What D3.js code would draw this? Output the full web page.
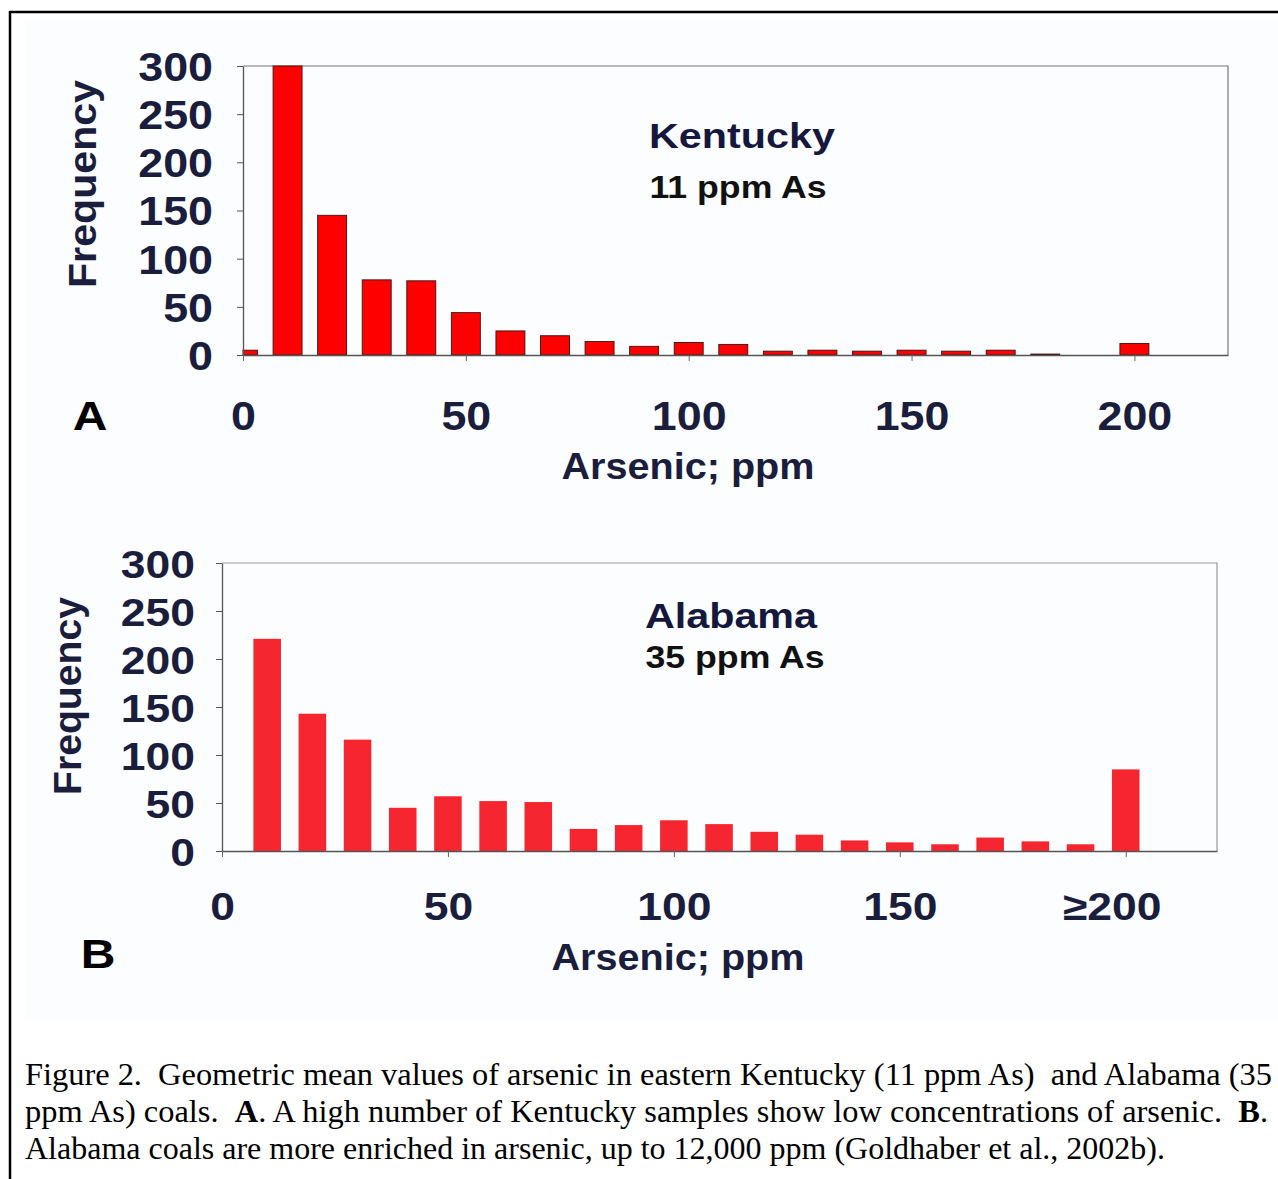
<!DOCTYPE html>
<html>
<head>
<meta charset="utf-8">
<script src="https://cdn.jsdelivr.net/npm/d3@7"></script>
<style>
  body { margin: 0; background: #fff; }
  text { font-family: "Liberation Sans", Arial, sans-serif; }
  .caption { font-family: "Liberation Serif", "Times New Roman", serif; white-space: pre; }
</style>
</head>
<body>
<svg id="fig" width="1278" height="1179"></svg>
<script>
// ---- data ----
var kentuckyBins = [0, 10, 20, 30, 40, 50, 60, 70, 80, 90, 100, 110, 120, 130, 140, 150, 160, 170, 180, 190, 200];
var kentuckyCounts = [5, 300, 145, 78, 77, 44, 25, 20, 14, 9, 13, 11, 4, 5, 4, 5, 4, 5, 1, 0, 12];

var alabamaBins = [10, 20, 30, 40, 50, 60, 70, 80, 90, 100, 110, 120, 130, 140, 150, 160, 170, 180, 190, 200];
var alabamaCounts = [221, 143, 116, 45, 57, 52, 51, 23, 27, 32, 28, 20, 17, 11, 9, 7, 14, 10, 7, 85];

var yTicks = [0, 50, 100, 150, 200, 250, 300];
var xTicks = [0, 50, 100, 150, 200];
var xTickLabelsA = ["0", "50", "100", "150", "200"];
var xTickLabelsB = ["0", "50", "100", "150", "\u2265200"];

var captionLines = [
  [["Figure 2.  Geometric mean values of arsenic in eastern Kentucky (11 ppm As)  and Alabama (35", false]],
  [["ppm As) coals.  ", false], ["A", true], [". A high number of Kentucky samples show low concentrations of arsenic.  ", false], ["B", true], [".", false]],
  [["Alabama coals are more enriched in arsenic, up to 12,000 ppm (Goldhaber et al., 2002b).", false]]
];

var navy = "#1b1d3d";
var svg = d3.select("#fig");

// widen glyphs a little, the scan's lettering is broader than Arial
function stretch(sel, k) {
  sel.each(function() {
    var w = this.getComputedTextLength();
    d3.select(this).attr("textLength", w * k).attr("lengthAdjust", "spacingAndGlyphs");
  });
}

// page frame and faint scan tint
svg.append("rect").attr("x", 25).attr("y", 20).attr("width", 1253).attr("height", 1000).attr("fill", "#fcfdfe");
svg.append("line").attr("x1", 10).attr("y1", 12).attr("x2", 1278).attr("y2", 12).attr("stroke", "#000").attr("stroke-width", 2.5);
svg.append("line").attr("x1", 10).attr("y1", 11).attr("x2", 10).attr("y2", 1179).attr("stroke", "#000").attr("stroke-width", 2.5);

function drawPanel(p, bins, counts, xLabels) {
  var x = d3.scaleLinear().domain([0, p.xMax]).range([p.left, p.right]);
  var y = d3.scaleLinear().domain([0, 300]).range([p.bottom, p.top]);
  var g = svg.append("g");

  // top and right frame
  g.append("path")
    .attr("d", `M${p.left},${p.top}H${p.right}V${p.bottom}`)
    .attr("fill", "none")
    .attr("stroke", p.frameColor)
    .attr("stroke-width", 1.2);

  // bars
  g.selectAll("rect.bar")
    .data(bins.map((b, i) => ({ bin: b, count: counts[i] })))
    .enter()
    .append("rect")
    .attr("class", "bar")
    .attr("x", d => Math.max(x(d.bin - p.barW / 2), x(0)))
    .attr("width", d => x(d.bin + p.barW / 2) - Math.max(x(d.bin - p.barW / 2), x(0)))
    .attr("y", d => y(d.count))
    .attr("height", d => y(0) - y(d.count))
    .attr("fill", p.barColor)
    .attr("stroke", p.barStroke)
    .attr("stroke-width", p.barStroke === "none" ? 0 : 0.9);

  // y axis
  var yAxis = g.append("g")
    .attr("transform", `translate(${p.left},0)`)
    .call(d3.axisLeft(y).tickValues(yTicks).tickSize(6).tickSizeOuter(0).tickPadding(p.yPad));
  yAxis.select(".domain").attr("stroke", "#555").attr("stroke-width", 1.3);
  yAxis.selectAll(".tick line").attr("stroke", "#555");
  yAxis.selectAll("text")
    .attr("fill", navy)
    .attr("font-size", p.tickFont)
    .attr("font-weight", "bold")
    .attr("font-family", "Liberation Sans, Arial, sans-serif")
    .attr("dy", "0.36em")
    .call(stretch, p.tickStretch);

  // x axis
  var xAxis = g.append("g")
    .attr("transform", `translate(0,${p.bottom})`)
    .call(d3.axisBottom(x).tickValues(xTicks).tickSize(6).tickSizeOuter(0).tickPadding(p.xPad)
      .tickFormat((d, i) => xLabels[i]));
  xAxis.select(".domain").attr("stroke", "#555").attr("stroke-width", 1.3);
  xAxis.selectAll(".tick line").attr("stroke", "#666");
  xAxis.selectAll("text")
    .attr("fill", navy)
    .attr("font-size", p.tickFont)
    .attr("font-weight", "bold")
    .attr("font-family", "Liberation Sans, Arial, sans-serif")
    .attr("dx", (d, i) => xLabels[i].length > 3 ? -14 : 0)
    .call(stretch, p.tickStretch);

  // axis titles
  g.append("text")
    .attr("transform", `translate(${p.yTitleX},${p.yTitleY}) rotate(-90)`)
    .attr("text-anchor", "middle")
    .attr("font-size", 38)
    .attr("font-weight", "bold")
    .attr("fill", navy)
    .attr("textLength", p.yTitleLen)
    .attr("lengthAdjust", "spacingAndGlyphs")
    .text("Frequency");

  g.append("text")
    .attr("x", p.xTitleX)
    .attr("y", p.xTitleY)
    .attr("text-anchor", "middle")
    .attr("font-size", 36)
    .attr("font-weight", "bold")
    .attr("fill", navy)
    .text("Arsenic; ppm")
    .call(stretch, 1.1);

  // panel titles
  g.append("text")
    .attr("x", p.titleX)
    .attr("y", p.titleY)
    .attr("text-anchor", "middle")
    .attr("font-size", 35)
    .attr("font-weight", "bold")
    .attr("fill", "#15173d")
    .text(p.title)
    .call(stretch, 1.18);

  g.append("text")
    .attr("x", p.subX)
    .attr("y", p.subY)
    .attr("text-anchor", "middle")
    .attr("font-size", 31)
    .attr("font-weight", "bold")
    .attr("fill", "#111")
    .text(p.sub)
    .call(stretch, 1.15);

  // panel letter
  g.append("text")
    .attr("x", p.letterX)
    .attr("y", p.letterY)
    .attr("text-anchor", "middle")
    .attr("font-size", 40)
    .attr("font-weight", "bold")
    .attr("fill", "#000")
    .text(p.letter)
    .call(stretch, 1.2);
}

drawPanel({
  left: 243, right: 1228, top: 66, bottom: 355, xMax: 221, barW: 6.5,
  barColor: "#ff0000", barStroke: "#3a1212", frameColor: "#777",
  yPad: 24, xPad: 41, tickFont: 40, tickStretch: 1.12,
  yTitleX: 96, yTitleY: 184, yTitleLen: 208,
  xTitleX: 688, xTitleY: 479,
  title: "Kentucky", titleX: 742, titleY: 148,
  sub: "11 ppm As", subX: 738, subY: 198,
  letter: "A", letterX: 90, letterY: 430
}, kentuckyBins, kentuckyCounts, xTickLabelsA);

drawPanel({
  left: 222, right: 1217, top: 563, bottom: 851, xMax: 220.2, barW: 6.1,
  barColor: "#f5262f", barStroke: "none", frameColor: "#999",
  yPad: 21, xPad: 35, tickFont: 39, tickStretch: 1.14,
  yTitleX: 81, yTitleY: 696, yTitleLen: 198,
  xTitleX: 678, xTitleY: 970,
  title: "Alabama", titleX: 731, titleY: 628,
  sub: "35 ppm As", subX: 735, subY: 668,
  letter: "B", letterX: 98, letterY: 968
}, alabamaBins, alabamaCounts, xTickLabelsB);

// caption
var captionWidths = [1247, 1243, 1140];
captionLines.forEach(function(parts, i) {
  var t = svg.append("text")
    .attr("class", "caption")
    .attr("x", 25)
    .attr("y", 1085 + i * 37)
    .attr("font-size", 31)
    .attr("fill", "#000")
    .attr("textLength", captionWidths[i])
    .attr("lengthAdjust", "spacingAndGlyphs");
  parts.forEach(function(part) {
    t.append("tspan")
      .attr("font-weight", part[1] ? "bold" : "normal")
      .text(part[0]);
  });
});
</script>
</body>
</html>
